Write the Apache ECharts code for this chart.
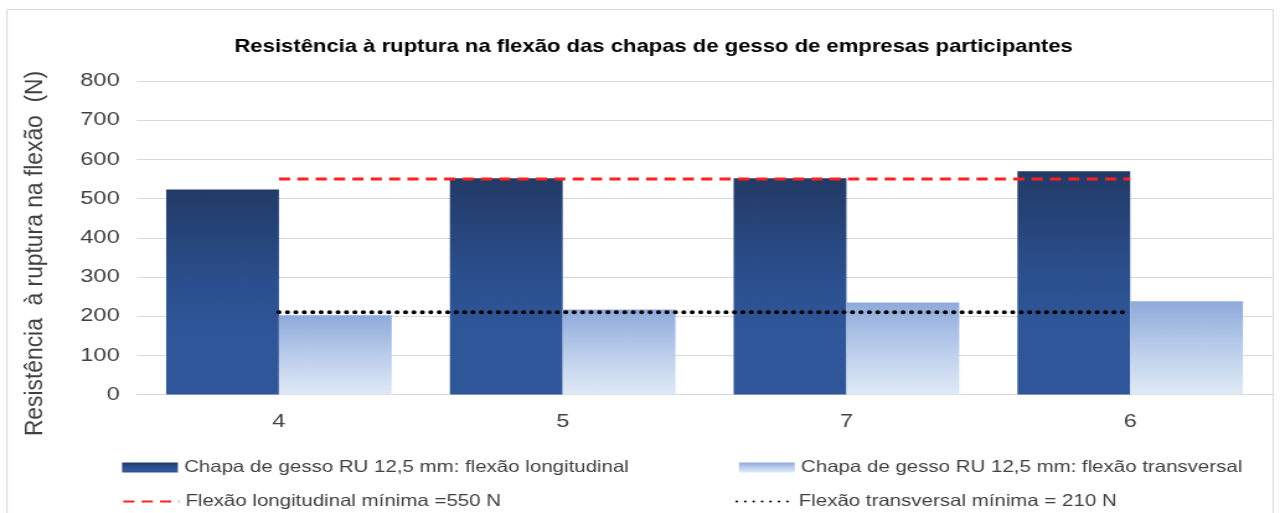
<!DOCTYPE html>
<html>
<head>
<meta charset="utf-8">
<script src="https://cdn.jsdelivr.net/npm/echarts@6/dist/echarts.min.js"></script>
<style>
html,body{margin:0;padding:0;background:#fff;overflow:hidden}
#wrap{width:1280px;height:513px;overflow:hidden}
#c{width:1032px;height:513px;transform:scaleX(1.2403);transform-origin:0 0}
</style>
</head>
<body>
<div id="wrap"><div id="c"></div></div>
<script>
const categories = ['4', '5', '7', '6'];
const longitudinal = [523, 552, 552, 570];
const transversal = [202, 217, 235, 238];
const minLongitudinal = [550, 550, 550, 550];
const minTransversal = [210, 210, 210, 210];
const yTicks = { min: 0, max: 800, interval: 100 };
const yAxisTitle = 'Resistência  à ruptura na flexão  (N)';

const names = [
  'Chapa de gesso RU 12,5 mm: flexão longitudinal',
  'Chapa de gesso RU 12,5 mm: flexão transversal',
  'Flexão longitudinal mínima =550 N',
  'Flexão transversal mínima = 210 N'
];
const font = 'Liberation Sans, Arial, sans-serif';
const txt = '#404040';

const chart = echarts.init(document.getElementById('c'));
const legendBase = {
  itemWidth: 45, itemHeight: 10, itemGap: 6,
  textStyle: { fontFamily: font, fontSize: 16.5, color: txt }
};
chart.setOption({
  animation: false,
  title: {
    text: 'Resistência à ruptura na flexão das chapas de gesso de empresas participantes',
    left: 522, textAlign: 'center', top: 33,
    textStyle: { fontFamily: font, fontSize: 17.8, fontWeight: 'bold', color: '#000' }
  },
  graphic: [
    {
      type: 'rect', shape: { x: 5.6, y: 9.5, width: 1021, height: 520 },
      style: { fill: 'none', stroke: '#d9d9d9', lineWidth: 1 }, silent: true
    },
    {
      type: 'text', x: 28.2, y: 253.5, rotation: Math.PI / 2, scaleX: 1.17, silent: true,
      style: { text: yAxisTitle, fontFamily: font, fontSize: 19.5, fill: txt, align: 'center', verticalAlign: 'middle' }
    }
  ],
  legend: [
    Object.assign({ data: [{ name: names[0], icon: 'rect' }], left: 93.4, top: 454 }, legendBase),
    Object.assign({ data: [{ name: names[1], icon: 'rect' }], left: 590.8, top: 454 }, legendBase),
    Object.assign({ data: [{ name: names[2], itemStyle: { opacity: 0 } }], left: 93.4, top: 488 }, legendBase),
    Object.assign({ data: [{ name: names[3], itemStyle: { opacity: 0 } }], left: 588, top: 488 }, legendBase)
  ],
  grid: { left: 110.5, right: 6.4, top: 81, bottom: 118.5 },
  xAxis: {
    type: 'category', data: categories,
    axisLine: { lineStyle: { color: '#d9d9d9' } },
    axisTick: { show: false },
    axisLabel: { fontFamily: font, fontSize: 19, color: txt, margin: 18 }
  },
  yAxis: {
    type: 'value', min: yTicks.min, max: yTicks.max, interval: yTicks.interval,
    axisLine: { show: false }, axisTick: { show: false },
    axisLabel: { fontFamily: font, fontSize: 19, color: txt, margin: 14 },
    splitLine: { lineStyle: { color: '#d9d9d9' } }
  },
  series: [
    {
      name: names[0], type: 'bar', data: longitudinal, barGap: '0%', barCategoryGap: '20.5%',
      itemStyle: { color: new echarts.graphic.LinearGradient(0, 0, 0, 1, [
        { offset: 0, color: '#223a66' }, { offset: 0.45, color: '#2b4f8d' }, { offset: 0.7, color: '#2f5699' }, { offset: 1, color: '#2f5699' }
      ]) }
    },
    {
      name: names[1], type: 'bar', data: transversal,
      itemStyle: { color: new echarts.graphic.LinearGradient(0, 0, 0, 1, [
        { offset: 0, color: '#8eaadb' }, { offset: 0.5, color: '#b9cceb' }, { offset: 1, color: '#e0eaf6' }
      ]) }
    },
    {
      name: names[2], type: 'line', data: minLongitudinal, symbol: 'none', z: 5,
      lineStyle: { color: '#ff2020', width: 3, type: [9, 5.8] },
      itemStyle: { color: '#ff2020' }
    },
    {
      name: names[3], type: 'line', data: minTransversal, symbol: 'none', z: 5,
      lineStyle: { color: '#000', width: 4, type: [0.1, 6.7], cap: 'round' },
      itemStyle: { color: '#000' }
    }
  ]
});
</script>
</body>
</html>
